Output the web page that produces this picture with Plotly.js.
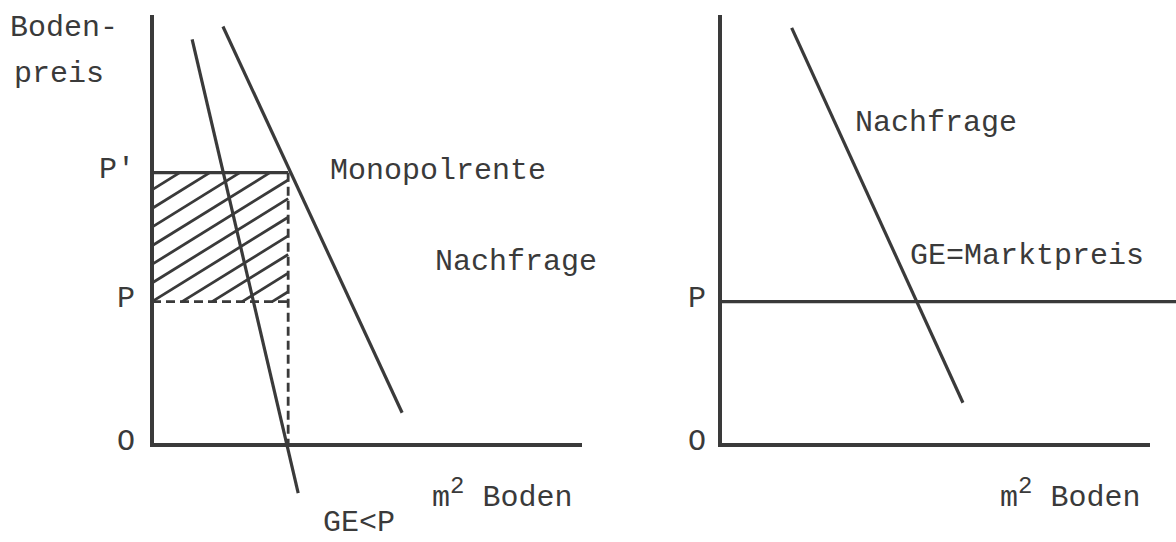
<!DOCTYPE html>
<html><head><meta charset="utf-8">
<script src="https://cdn.plot.ly/plotly-3.0.1.min.js"></script>
<style>html,body{margin:0;padding:0;background:#fff}#chart{width:1176px;height:542px}</style>
</head><body><div id="chart"></div>
<script>
// ---- data (abstract units: m2 Boden on x, Bodenpreis on y) ----
const axisMaxQ = 30;
const axisMaxP = 30;
const priceP = 10;          // P (Grenzertrag / market price)
const pricePPrime = 19;     // P' (monopoly price)
const qMonopoly = 9.5;      // quantity at P'

// left panel curves
const leftDemandQ = [4.95, 17.45];
const leftDemandP = [29.2, 2.25];
const leftGEQ = [2.8, 10.2];
const leftGEP = [28.3, -3.35];

// hatching of the Monopolrente area: left-edge intercepts (price) and slope
const hatchIntercepts = [4.8, 6.1, 7.4, 8.7, 10, 11.3, 12.6, 13.9, 15.2, 16.5, 17.8];
const hatchSlope = 0.62;

// right panel curves
const rightDemandQ = [5.0, 16.95];
const rightDemandP = [29.1, 2.95];
const marketLineQ = [0, 32];

// labels
const yLabelLines = ["Boden-", "preis"];
const xLabel = "m<sup><span style=\"font-size:24px\">2</span></sup> Boden";
const tickLabelsLeft = ["P'", "P", "O"];
const tickValsLeft = [pricePPrime, priceP, 0];
const tickLabelsRight = ["P", "O"];
const tickValsRight = [priceP, 0];

// ---- layout helpers ----
const W = 1176, H = 542;
const u = 430 / 30;                 // pixels per unit
const leftOrigin = [152, 445], rightOrigin = [720, 445];
const ink = '#3a3a3a';
const FONT = 'Liberation Mono, Courier New, monospace';

function line(x, y, xa, ya, w, dash) {
  return {x, y, xaxis: xa, yaxis: ya, type: 'scatter', mode: 'lines',
    line: {color: ink, width: w, dash: dash || 'solid'}, hoverinfo: 'skip', showlegend: false};
}

// hatch segments clipped to the rectangle [0,qMonopoly] x [priceP,pricePPrime]
const hx = [], hy = [];
hatchIntercepts.forEach(b => {
  const x0 = Math.max(0, (priceP - b) / hatchSlope);
  const x1 = Math.min(qMonopoly, (pricePPrime - b) / hatchSlope);
  if (x1 > x0) { hx.push(x0, x1, null); hy.push(b + hatchSlope * x0, b + hatchSlope * x1, null); }
});

const traces = [
  // left panel
  line([0, 0, axisMaxQ], [axisMaxP, 0, 0], 'x', 'y', 4),
  line(hx, hy, 'x', 'y', 2.8),
  line([0, qMonopoly], [pricePPrime, pricePPrime], 'x', 'y', 3.2),
  line([0, qMonopoly], [priceP, priceP], 'x', 'y', 2.8, '9px,5px'),
  line([qMonopoly, qMonopoly], [pricePPrime, 0], 'x', 'y', 2.8, '9px,5px'),
  line(leftGEQ, leftGEP, 'x', 'y', 3.2),
  line(leftDemandQ, leftDemandP, 'x', 'y', 3.2),
  // right panel
  line([0, 0, axisMaxQ], [axisMaxP, 0, 0], 'x2', 'y2', 4),
  line(marketLineQ, [priceP, priceP], 'x2', 'y2', 3.2),
  line(rightDemandQ, rightDemandP, 'x2', 'y2', 3.2)
];

function ann(text, x, y, xa, ya, xanchor) {
  return {text, x, y, xref: xa, yref: ya, xanchor: xanchor || 'left', yanchor: 'middle',
    showarrow: false, font: {family: FONT, size: 30, color: ink}};
}

const annotations = [
  ann(yLabelLines[0], -10.05, 29.1, 'x', 'y'),
  ann(yLabelLines[1], -9.77, 25.9, 'x', 'y'),
  ann("Monopolrente", 12.3, 19.1, 'x', 'y'),
  ann("Nachfrage", 19.6, 12.8, 'x', 'y'),
  ann(xLabel, 19.4, -3.4, 'x', 'y'),
  ann("GE&lt;P", 11.8, -5.45, 'x', 'y'),
  ann(yLabelLines[0], -9.75, 29.1, 'x2', 'y2'),
  ann(yLabelLines[1], -9.4, 25.9, 'x2', 'y2'),
  ann("Nachfrage", 9.3, 22.5, 'x2', 'y2'),
  ann("GE=Marktpreis", 13.1, 13.2, 'x2', 'y2'),
  ann(xLabel, 19.4, -3.4, 'x2', 'y2')
];
tickLabelsLeft.forEach((t, i) => annotations.push(ann(t, -1.05, tickValsLeft[i] + 0.2, 'x', 'y', 'right')));
tickLabelsRight.forEach((t, i) => annotations.push(ann(t, -0.85, tickValsRight[i] + 0.2, 'x2', 'y2', 'right')));

const hidden = {visible: false, showgrid: false, zeroline: false, fixedrange: true};
const layout = {
  width: W, height: H,
  margin: {l: 0, r: 0, t: 0, b: 0},
  paper_bgcolor: '#ffffff', plot_bgcolor: '#ffffff',
  showlegend: false,
  xaxis: Object.assign({}, hidden, {domain: [0, 0.5], anchor: 'y',
    range: [(0 - leftOrigin[0]) / u, (W / 2 - leftOrigin[0]) / u]}),
  xaxis2: Object.assign({}, hidden, {domain: [0.5, 1], anchor: 'y2',
    range: [(W / 2 - rightOrigin[0]) / u, (W - rightOrigin[0]) / u]}),
  yaxis: Object.assign({}, hidden, {domain: [0, 1], anchor: 'x',
    range: [(leftOrigin[1] - H) / u, leftOrigin[1] / u]}),
  yaxis2: Object.assign({}, hidden, {domain: [0, 1], anchor: 'x2',
    range: [(rightOrigin[1] - H) / u, rightOrigin[1] / u]}),
  annotations
};

Plotly.newPlot('chart', traces, layout, {staticPlot: true, displayModeBar: false});
</script>
</body></html>
